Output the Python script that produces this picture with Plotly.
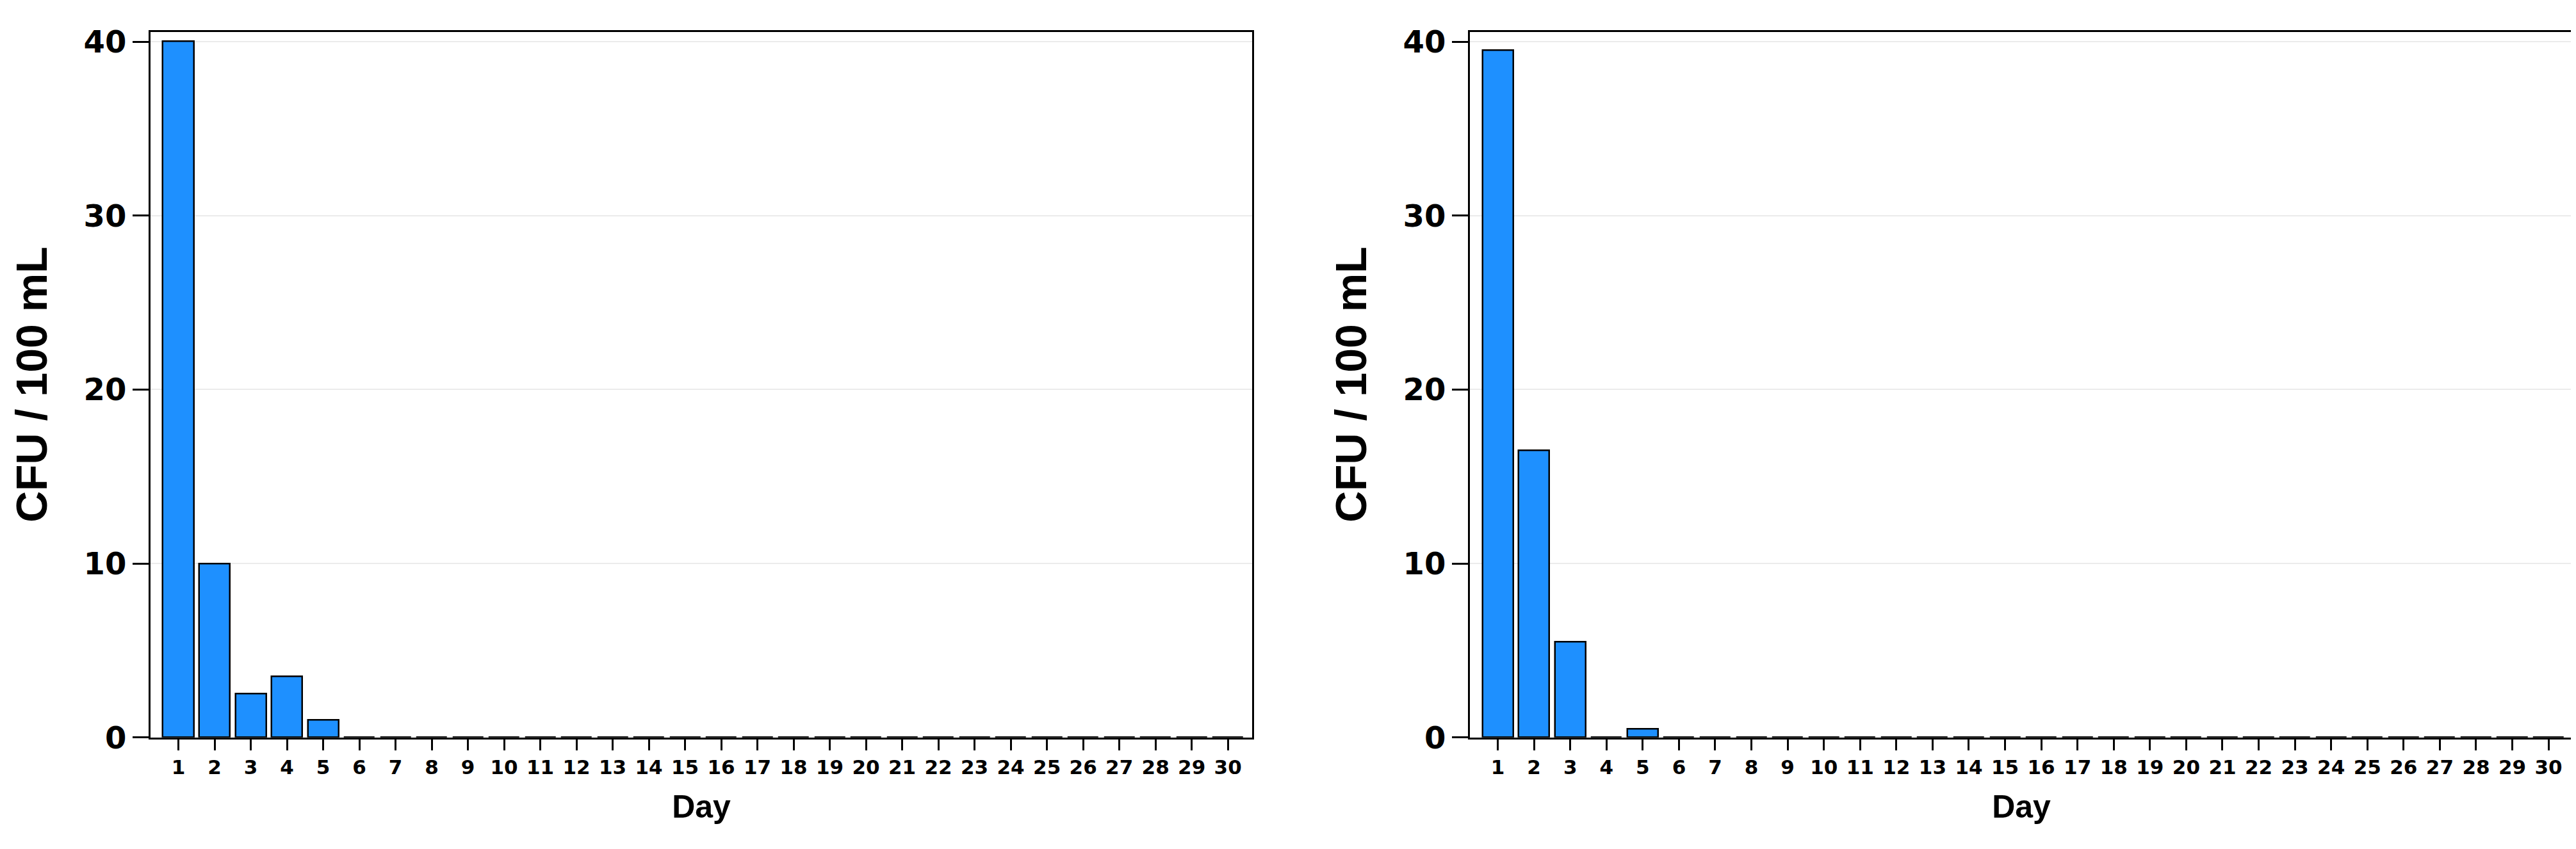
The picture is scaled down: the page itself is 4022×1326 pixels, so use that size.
import plotly.graph_objects as go

days = list(range(1, 31))
left_vals = [40, 10, 2.5, 3.5, 1] + [0] * 25
right_vals = [39.5, 16.5, 5.5, 0, 0.5] + [0] * 25
y_ticks = [0, 10, 20, 30, 40]

W, H = 4022, 1326
fig = go.Figure()
doms = [(227 / W, 1947 / W), (2287 / W, 4009 / W)]
ydom = (1 - 1167 / H, 1 - 30.5 / H)
tickfont_y = dict(family="DejaVu Sans", size=48, color="black")
tickfont_x = dict(family="DejaVu Sans", size=31, color="black")
titlefont = dict(family="Liberation Sans", size=68, color="black")

for i, vals in enumerate([left_vals, right_vals]):
    xa = "x" if i == 0 else "x2"
    ya = "y" if i == 0 else "y2"
    fig.add_trace(go.Bar(x=days, y=vals, xaxis=xa, yaxis=ya, width=0.85,
                         marker=dict(color="#1E90FF", line=dict(color="black", width=2.5)),
                         showlegend=False))
    key = "" if i == 0 else "2"
    fig.layout["xaxis" + key] = dict(
        domain=doms[i], anchor=ya, range=[0.23, 30.67], tickmode="array",
        tickvals=days, ticktext=[f"<b>{d}</b>" for d in days], tickfont=tickfont_x,
        ticks="outside", ticklen=17, tickwidth=2.5, tickcolor="black",
        showline=True, linecolor="black", linewidth=3, mirror=True,
        showgrid=False, zeroline=False,
        title=dict(text="<b>Day</b>", font=dict(family="Liberation Sans", size=50, color="black"), standoff=28))
    fig.layout["yaxis" + key] = dict(
        domain=ydom, anchor=xa, range=[0, 40.57], tickmode="array",
        tickvals=y_ticks, ticktext=[f"<b>{v}</b>" for v in y_ticks], tickfont=tickfont_y,
        ticks="outside", ticklen=25, tickwidth=2.5, tickcolor="black",
        showline=True, linecolor="black", linewidth=3, mirror=True,
        showgrid=True, gridcolor="#EBEBEB", gridwidth=2, zeroline=False,
        title=dict(text="<b>CFU / 100 mL</b>", font=titlefont, standoff=35))

fig.update_layout(width=W, height=H, margin=dict(l=0, r=0, t=0, b=0),
                  plot_bgcolor="white", paper_bgcolor="white", bargap=0)
fig.write_html("out.html")
